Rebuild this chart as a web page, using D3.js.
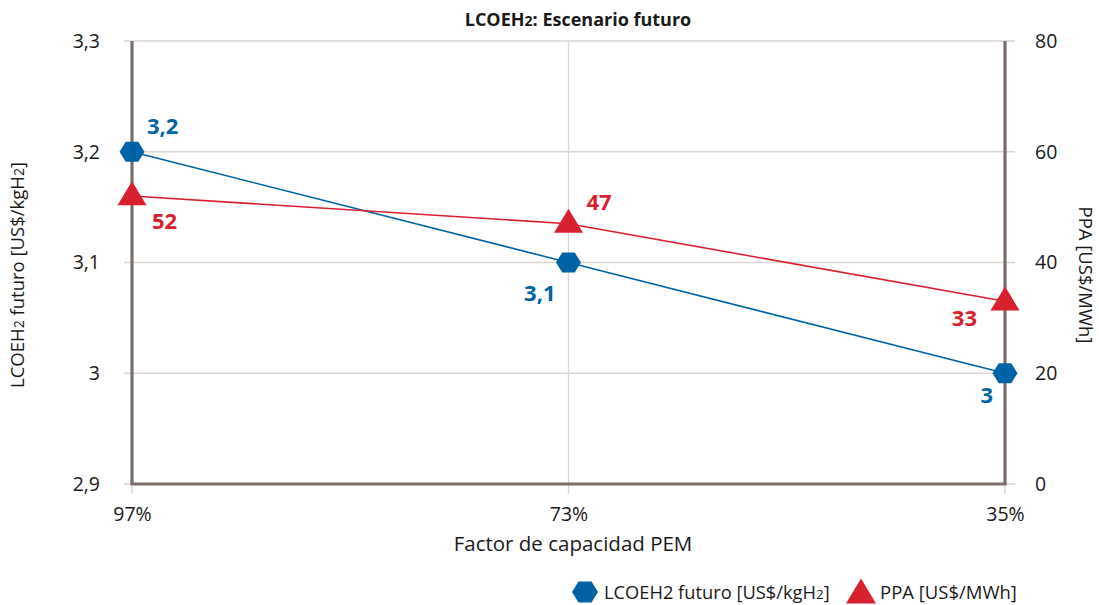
<!DOCTYPE html>
<html><head><meta charset="utf-8">
<script src="https://cdn.jsdelivr.net/npm/d3@7"></script>
<style>body{margin:0;background:#fff}svg{display:block}text{font-family:"Open Sans",sans-serif}</style>
</head><body><svg id="c" width="1099" height="605"></svg>
<script>
const categories = ["97%", "73%", "35%"];
const lcoeValues = [3.2, 3.1, 3.0];
const ppaValues = [52, 47, 33];
const lcoeLabels = ["3,2", "3,1", "3"];
const ppaLabels = ["52", "47", "33"];
const leftTicks = [2.9, 3.0, 3.1, 3.2, 3.3];
const leftTickLabels = ["2,9", "3", "3,1", "3,2", "3,3"];
const rightTicks = [0, 20, 40, 60, 80];

const BLUE = "#0063a6", RED = "#d8202e", AXIS = "#786e6a", GRID = "#d9d6d4";
const svg = d3.select("#c");
const L = 132, R = 1005, T = 41, B = 484;
const x = d3.scalePoint().domain(categories).range([L, R]).padding(0);
const yL = d3.scaleLinear().domain([2.9, 3.3]).range([B, T]);
const yR = d3.scaleLinear().domain([0, 80]).range([B, T]);

// grid
svg.append("g").selectAll("line").data(leftTicks).join("line")
  .attr("x1", L - 8).attr("x2", R + 10)
  .attr("y1", d => yL(d)).attr("y2", d => yL(d))
  .attr("stroke", GRID).attr("stroke-width", 1.3);
svg.append("g").selectAll("line").data(categories).join("line")
  .attr("x1", d => x(d)).attr("x2", d => x(d))
  .attr("y1", T).attr("y2", B + 10)
  .attr("stroke", GRID).attr("stroke-width", 1.3);

// axes
const axL = d3.axisLeft(yL).tickValues(leftTicks).tickFormat((d,i) => leftTickLabels[i]).tickSize(0).tickPadding(32);
const gL = svg.append("g").attr("transform", `translate(${L},0)`).call(axL);
const axR = d3.axisRight(yR).tickValues(rightTicks).tickSize(0).tickPadding(30);
const gR = svg.append("g").attr("transform", `translate(${R},0)`).call(axR);
const axB = d3.axisBottom(x).tickSize(0).tickPadding(23);
const gB = svg.append("g").attr("transform", `translate(0,${B})`).call(axB);
[gL, gR, gB].forEach(g => {
  g.select(".domain").remove();
  g.selectAll("text").attr("font-size", 19.5).attr("fill", "#1a1a1a").attr("font-family", "'Open Sans',sans-serif");
});
svg.append("line").attr("x1", L).attr("x2", L).attr("y1", T).attr("y2", B).attr("stroke", AXIS).attr("stroke-width", 3.2);
svg.append("line").attr("x1", R).attr("x2", R).attr("y1", T).attr("y2", B).attr("stroke", AXIS).attr("stroke-width", 3.2);
svg.append("line").attr("x1", L - 1.6).attr("x2", R + 1.6).attr("y1", B).attr("y2", B).attr("stroke", AXIS).attr("stroke-width", 3.2);

// lines
const lineL = d3.line().x((d,i) => x(categories[i])).y(d => yL(d));
const lineR = d3.line().x((d,i) => x(categories[i])).y(d => yR(d));
svg.append("path").attr("d", lineL(lcoeValues)).attr("fill", "none").attr("stroke", BLUE).attr("stroke-width", 1.6);
svg.append("path").attr("d", lineR(ppaValues)).attr("fill", "none").attr("stroke", RED).attr("stroke-width", 1.6);

function hexPath(cx, cy, w, h) {
  const a = w / 2, q = w / 4, b = h / 2;
  return `M${cx - a},${cy} L${cx - q},${cy - b} L${cx + q},${cy - b} L${cx + a},${cy} L${cx + q},${cy + b} L${cx - q},${cy + b} Z`;
}
function triPath(cx, cy, w, h) {
  return `M${cx},${cy - h * 0.62} L${cx + w / 2},${cy + h * 0.38} L${cx - w / 2},${cy + h * 0.38} Z`;
}
svg.append("g").selectAll("path").data(lcoeValues).join("path")
  .attr("d", (d,i) => hexPath(x(categories[i]), yL(d), 25, 20)).attr("fill", BLUE);
svg.append("g").selectAll("path").data(ppaValues).join("path")
  .attr("d", (d,i) => triPath(x(categories[i]), yR(d), 29, 24)).attr("fill", RED);

// data labels
const lcoeOff = [[15, -18, "start"], [-13, 38, "end"], [-12, 30, "end"]];
const ppaOff = [[20, 33, "start"], [18, -14, "start"], [-28, 25, "end"]];
svg.append("g").selectAll("text").data(lcoeValues).join("text")
  .attr("x", (d,i) => x(categories[i]) + lcoeOff[i][0])
  .attr("y", (d,i) => yL(d) + lcoeOff[i][1])
  .attr("text-anchor", (d,i) => lcoeOff[i][2])
  .attr("font-size", 22).attr("font-weight", "bold").attr("fill", BLUE)
  .text((d,i) => lcoeLabels[i]);
svg.append("g").selectAll("text").data(ppaValues).join("text")
  .attr("x", (d,i) => x(categories[i]) + ppaOff[i][0])
  .attr("y", (d,i) => yR(d) + ppaOff[i][1])
  .attr("text-anchor", (d,i) => ppaOff[i][2])
  .attr("font-size", 22).attr("font-weight", "bold").attr("fill", RED)
  .text((d,i) => ppaLabels[i]);

// title
const title = svg.append("text").attr("x", 578).attr("y", 26).attr("text-anchor", "middle")
  .attr("font-size", 18).attr("font-weight", "bold").attr("fill", "#1a1a1a");
title.append("tspan").text("LCOEH");
title.append("tspan").attr("font-size", 14).text("2");
title.append("tspan").text(": Escenario futuro");

// axis titles
svg.append("text").attr("x", 573).attr("y", 551).attr("text-anchor", "middle")
  .attr("font-size", 20.5).attr("fill", "#1a1a1a").text("Factor de capacidad PEM");
const yt = svg.append("text").attr("transform", "translate(24,275) rotate(-90)").attr("text-anchor", "middle")
  .attr("font-size", 18.5).attr("fill", "#1a1a1a");
yt.append("tspan").text("LCOEH");
yt.append("tspan").attr("font-size", 14).text("2");
yt.append("tspan").text(" futuro [US$/kgH");
yt.append("tspan").attr("font-size", 14).text("2");
yt.append("tspan").text("]");
svg.append("text").attr("transform", "translate(1079,275) rotate(90)").attr("text-anchor", "middle")
  .attr("font-size", 18.5).attr("fill", "#1a1a1a").text("PPA [US$/MWh]");

// legend
const lg = svg.append("g");
lg.append("path").attr("d", hexPath(585, 592, 26, 21)).attr("fill", BLUE);
const lt = lg.append("text").attr("x", 604).attr("y", 599).attr("font-size", 18.3).attr("fill", "#1a1a1a");
lt.append("tspan").text("LCOEH2 futuro [US$/kgH");
lt.append("tspan").attr("font-size", 13.5).text("2");
lt.append("tspan").text("]");
lg.append("path").attr("d", triPath(861, 594, 30, 25)).attr("fill", RED);
lg.append("text").attr("x", 880).attr("y", 599).attr("font-size", 18.5).attr("fill", "#1a1a1a").text("PPA [US$/MWh]");
</script></body></html>
